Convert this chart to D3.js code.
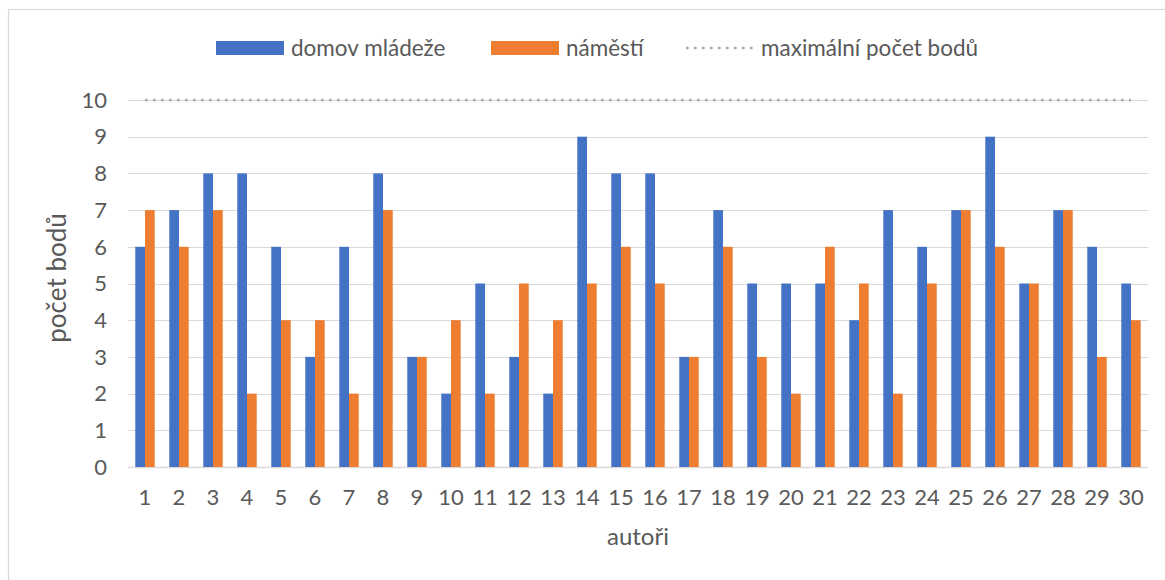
<!DOCTYPE html>
<html>
<head>
<meta charset="utf-8">
<script src="https://cdn.jsdelivr.net/npm/d3@7"></script>
<style>
  body { margin: 0; background: #fff; }
  text { font-family: Lato, "Open Sans", sans-serif; fill: #595959; }
</style>
</head>
<body>
<svg id="chart" width="1165" height="580"></svg>
<script>
// data
const authors = d3.range(1, 31).map(String);
const domovMladeze = [6, 7, 8, 8, 6, 3, 6, 8, 3, 2, 5, 3, 2, 9, 8, 8, 3, 7, 5, 5, 5, 4, 7, 6, 7, 9, 5, 7, 6, 5];
const namesti = [7, 6, 7, 2, 4, 4, 2, 7, 3, 4, 2, 5, 4, 5, 6, 5, 3, 6, 3, 2, 6, 5, 2, 5, 7, 6, 5, 7, 3, 4];
const maxBody = 10;
const yTicks = d3.range(0, 11);
const seriesNames = ['domov mládeže', 'náměstí', 'maximální počet bodů'];
const colors = ['#4472C4', '#ED7D31', '#A5A5A5'];

const svg = d3.select('#chart');

// outer chart border
svg.append('rect')
    .attr('x', 8.5).attr('y', 9.5)
    .attr('width', 1170).attr('height', 600)
    .attr('fill', 'none')
    .attr('stroke', '#d9d9d9')
    .attr('stroke-width', 1.2);

const plot = { left: 128, right: 1148, top: 100, bottom: 467 };

// gap width 150% -> inner padding 1.5 / 3.5
const x = d3.scaleBand()
    .domain(authors)
    .range([plot.left, plot.right])
    .paddingInner(1.5 / 3.5)
    .paddingOuter(0.75 / 3.5);

const xSub = d3.scaleBand()
    .domain([0, 1])
    .range([0, x.bandwidth()]);

const y = d3.scaleLinear()
    .domain([0, 10])
    .range([plot.bottom, plot.top]);

// gridlines
svg.append('g')
    .selectAll('line')
    .data(yTicks)
    .join('line')
    .attr('x1', plot.left).attr('x2', plot.right)
    .attr('y1', d => Math.round(y(d)) + 0.5)
    .attr('y2', d => Math.round(y(d)) + 0.5)
    .attr('stroke', '#d9d9d9')
    .attr('stroke-width', d => d === 0 ? 1.5 : 1.2);

// y tick labels
svg.append('g')
    .selectAll('text')
    .data(yTicks)
    .join('text')
    .attr('x', 107)
    .attr('y', d => y(d))
    .attr('dy', '0.35em')
    .attr('text-anchor', 'end')
    .attr('font-size', 22)
    .text(d => d);

// bars
const series = [domovMladeze, namesti];
series.forEach((vals, si) => {
    svg.append('g')
        .selectAll('rect')
        .data(vals)
        .join('rect')
        .attr('x', (d, i) => x(authors[i]) + xSub(si))
        .attr('y', d => y(d))
        .attr('width', xSub.bandwidth())
        .attr('height', d => y(0) - y(d))
        .attr('fill', colors[si]);
});

// max points line
const line = d3.line()
    .x(d => x(d) + x.bandwidth() / 2)
    .y(() => y(maxBody));
svg.append('path')
    .datum(authors)
    .attr('d', line)
    .attr('fill', 'none')
    .attr('stroke', colors[2])
    .attr('stroke-width', 2.5)
    .attr('stroke-dasharray', '2.5,5.5');

// x tick labels
svg.append('g')
    .selectAll('text')
    .data(authors)
    .join('text')
    .attr('x', d => x(d) + x.bandwidth() / 2)
    .attr('y', 505)
    .attr('text-anchor', 'middle')
    .attr('font-size', 22)
    .text(d => d);

// axis titles
svg.append('text')
    .attr('x', 638).attr('y', 545)
    .attr('text-anchor', 'middle')
    .attr('font-size', 24)
    .text('autoři');

svg.append('text')
    .attr('transform', 'translate(66,278) rotate(-90)')
    .attr('text-anchor', 'middle')
    .attr('font-size', 26)
    .text('počet bodů');

// legend
const legendX = [216, 491, 686];
const lg = svg.append('g');
seriesNames.forEach((name, i) => {
    if (i < 2) {
        lg.append('rect')
            .attr('x', legendX[i]).attr('y', 41)
            .attr('width', 68).attr('height', 14)
            .attr('fill', colors[i]);
    } else {
        lg.append('line')
            .attr('x1', legendX[i]).attr('x2', legendX[i] + 72)
            .attr('y1', 48).attr('y2', 48)
            .attr('stroke', colors[i])
            .attr('stroke-width', 2.5)
            .attr('stroke-dasharray', '2.5,5.5');
    }
    lg.append('text')
        .attr('x', legendX[i] + 75)
        .attr('y', 48)
        .attr('dy', '0.35em')
        .attr('font-size', 22.5)
        .text(name);
});
</script>
</body>
</html>
